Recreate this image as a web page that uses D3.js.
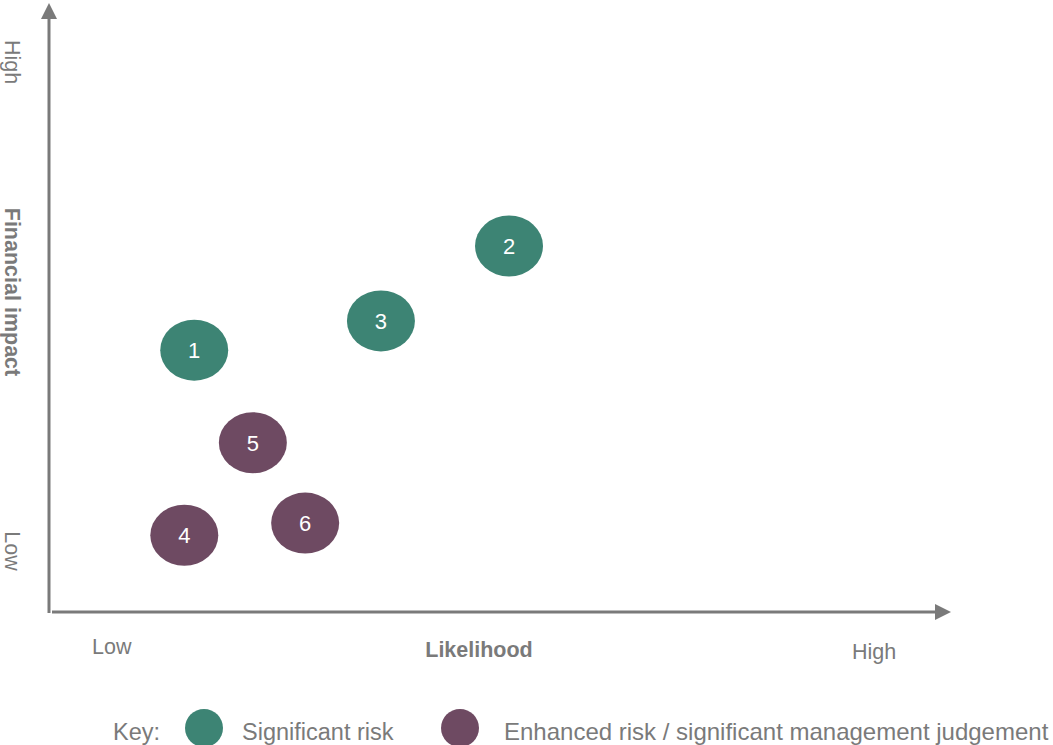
<!DOCTYPE html>
<html>
<head>
<meta charset="utf-8">
<script src="https://cdn.jsdelivr.net/npm/d3@7"></script>
<style>
  body { margin: 0; background: #fff; }
  svg { font-family: "Liberation Sans", Arial, sans-serif; }
</style>
</head>
<body>
<svg width="1053" height="745"></svg>
<script>
// risk numbers and where they sit (0-10 likelihood / impact)
const riskIds = ['1', '2', '3', '4', '5', '6'];
const likelihood = [1.61, 5.10, 3.68, 1.50, 2.26, 2.84];
const impact = [4.30, 6.01, 4.78, 1.26, 2.78, 1.46];
const riskType = ['significant', 'significant', 'significant', 'enhanced', 'enhanced', 'enhanced'];

const keyLabels = ['Significant risk', 'Enhanced risk / significant management judgement'];
const keyTypes = ['significant', 'enhanced'];

const colors = { significant: '#3d8474', enhanced: '#6e4a62' };
const axisColor = '#7a7a7a';

var svg = d3.select('svg');

// scales
var xScale = d3.scaleLinear().domain([0, 10]).range([49, 951]);
var yScale = d3.scaleLinear().domain([0, 10]).range([612, 3]);

// axis lines with arrow heads
svg.append('line')
    .attr('x1', xScale(0)).attr('x2', xScale(0))
    .attr('y1', yScale(0) + 1).attr('y2', yScale(10) + 14)
    .attr('stroke', axisColor).attr('stroke-width', 3);

svg.append('path')
    .attr('d', 'M' + xScale(0) + ',' + yScale(10) + 'l-8,16h16z')
    .attr('fill', axisColor);

svg.append('line')
    .attr('x1', xScale(0) + 3).attr('x2', xScale(10) - 14)
    .attr('y1', yScale(0)).attr('y2', yScale(0))
    .attr('stroke', axisColor).attr('stroke-width', 3);

svg.append('path')
    .attr('d', 'M' + xScale(10) + ',' + yScale(0) + 'l-16,-8v16z')
    .attr('fill', axisColor);

// y axis labels (rotated clockwise)
function vLabel(text, y, bold) {
    svg.append('text')
        .attr('transform', 'translate(5,' + y + ') rotate(90)')
        .attr('text-anchor', 'middle')
        .attr('fill', axisColor)
        .attr('font-size', 21.5)
        .attr('font-weight', bold ? 'bold' : 'normal')
        .text(text);
}
vLabel('High', 62, false);
vLabel('Financial impact', 292, true);
vLabel('Low', 551, false);

// x axis labels
svg.append('text')
    .attr('x', 92).attr('y', 654)
    .attr('fill', axisColor).attr('font-size', 21.5)
    .text('Low');

svg.append('text')
    .attr('x', 479).attr('y', 657)
    .attr('text-anchor', 'middle')
    .attr('fill', axisColor).attr('font-size', 21.5).attr('font-weight', 'bold')
    .text('Likelihood');

svg.append('text')
    .attr('x', 852).attr('y', 659)
    .attr('fill', axisColor).attr('font-size', 21.5)
    .text('High');

// risk bubbles
var bubbles = svg.append('g').selectAll('g')
    .data(riskIds)
    .join('g')
    .attr('transform', function(d, i) {
        return 'translate(' + xScale(likelihood[i]) + ',' + yScale(impact[i]) + ')';
    });

bubbles.append('ellipse')
    .attr('rx', 34).attr('ry', 30.5)
    .attr('fill', function(d, i) { return colors[riskType[i]]; });

bubbles.append('text')
    .attr('text-anchor', 'middle')
    .attr('dy', '0.36em')
    .attr('fill', '#fff')
    .attr('font-size', 22)
    .text(function(d) { return d; });

// key
svg.append('text')
    .attr('x', 113).attr('y', 740)
    .attr('fill', axisColor).attr('font-size', 23.5)
    .text('Key:');

var keyX = [204, 460];
var keyTextX = [242, 504];
keyTypes.forEach(function(t, i) {
    svg.append('circle')
        .attr('cx', keyX[i]).attr('cy', 728)
        .attr('r', 19)
        .attr('fill', colors[t]);
    svg.append('text')
        .attr('x', keyTextX[i]).attr('y', 740)
        .attr('fill', axisColor).attr('font-size', i === 1 ? 24 : 23.5)
        .text(keyLabels[i]);
});
</script>
</body>
</html>
